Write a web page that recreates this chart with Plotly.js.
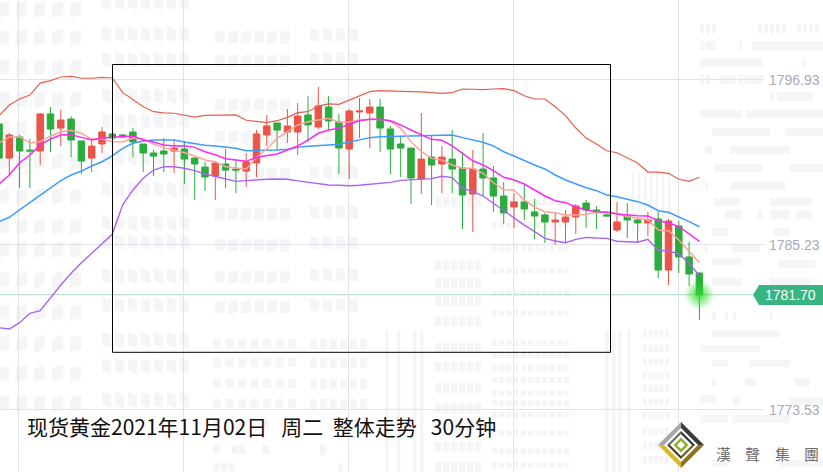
<!DOCTYPE html>
<html><head><meta charset="utf-8">
<script src="https://cdn.plot.ly/plotly-3.0.1.min.js"></script>
<style>html,body{margin:0;padding:0;background:#fff}#c{width:823px;height:472px}</style>
</head><body><div id="c"></div>
<script>
const open_=[1793.81,1791.39,1792.89,1791.96,1791.89,1794.52,1793.52,1794.16,1792.60,1791.39,1792.39,1793.10,1793.03,1793.24,1792.39,1791.75,1791.89,1791.89,1792.03,1791.39,1790.75,1790.12,1790.97,1790.61,1790.47,1791.04,1793.03,1793.88,1793.24,1793.24,1794.45,1793.59,1795.01,1793.95,1792.03,1794.66,1794.59,1795.01,1793.45,1792.39,1792.10,1789.91,1791.46,1790.97,1791.32,1790.69,1788.84,1790.61,1789.98,1788.70,1787.92,1788.28,1787.57,1787.36,1786.86,1786.86,1787.21,1788.20,1787.71,1787.36,1786.29,1787.28,1787.00,1786.79,1787.07,1783.45,1786.57,1784.38,1783.24];
const high=[1794.23,1793.17,1793.03,1792.74,1794.59,1795.01,1794.80,1794.37,1792.60,1792.74,1793.59,1793.10,1793.10,1793.52,1792.39,1791.96,1792.81,1792.60,1792.60,1791.46,1791.11,1791.18,1792.03,1791.32,1791.75,1793.38,1794.45,1793.88,1794.87,1795.30,1795.79,1796.43,1795.79,1794.52,1794.87,1795.65,1795.58,1795.58,1793.67,1792.96,1792.10,1794.59,1792.96,1792.24,1793.38,1791.82,1791.96,1793.17,1790.83,1789.69,1788.91,1789.48,1788.49,1787.50,1787.57,1787.71,1788.13,1788.42,1787.99,1787.50,1788.28,1788.20,1787.07,1787.57,1787.57,1787.07,1786.93,1785.44,1783.31];
const low=[1789.34,1790.19,1789.27,1789.27,1790.90,1791.82,1792.24,1791.46,1790.26,1790.40,1791.75,1792.81,1792.81,1791.46,1790.40,1790.12,1790.40,1790.33,1789.55,1788.42,1789.06,1788.42,1789.27,1788.91,1789.34,1790.05,1792.24,1791.96,1792.46,1791.61,1792.53,1793.45,1793.31,1790.26,1789.91,1792.81,1792.10,1791.82,1790.26,1790.05,1788.13,1788.84,1788.06,1788.91,1788.91,1786.36,1786.15,1788.70,1787.57,1786.72,1786.43,1787.00,1785.65,1785.37,1785.23,1785.37,1786.01,1786.43,1786.36,1787.28,1786.15,1785.72,1785.44,1785.86,1782.89,1782.39,1783.24,1782.32,1779.91];
const close_=[1791.39,1793.03,1791.89,1791.89,1794.52,1793.45,1794.09,1792.67,1791.18,1792.24,1793.24,1792.81,1792.89,1792.53,1791.75,1791.53,1791.68,1792.10,1791.32,1790.97,1790.05,1791.04,1790.54,1790.54,1791.11,1793.10,1793.67,1793.38,1793.67,1794.37,1793.74,1795.08,1794.02,1792.10,1794.73,1794.73,1795.01,1793.52,1792.03,1792.10,1789.98,1791.32,1790.90,1791.46,1790.61,1788.77,1790.61,1789.98,1788.70,1787.50,1788.28,1787.78,1787.28,1786.86,1787.00,1787.21,1787.99,1787.71,1787.64,1787.28,1786.86,1787.00,1786.79,1787.00,1783.45,1786.93,1784.38,1783.17,1781.70];
const upperBand=[1794.37,1795.15,1795.58,1795.86,1796.71,1796.88,1797.14,1797.19,1797.05,1797.05,1797.12,1797.07,1796.05,1795.51,1795.03,1794.68,1794.59,1794.57,1794.42,1794.30,1794.42,1794.42,1794.47,1794.45,1794.07,1793.97,1793.90,1794.04,1794.28,1794.61,1794.68,1795.08,1795.23,1795.20,1795.51,1795.79,1796.10,1796.17,1796.13,1796.10,1796.10,1796.08,1796.05,1795.98,1796.03,1796.29,1796.27,1796.24,1796.29,1796.31,1796.17,1795.81,1795.58,1795.58,1795.03,1794.40,1793.52,1792.81,1792.39,1791.91,1791.77,1791.42,1791.04,1790.40,1790.40,1790.31,1789.89,1789.74,1790.03];
const ma5=[1792.46,1792.89,1792.89,1792.46,1792.55,1792.96,1793.24,1793.36,1793.15,1792.74,1792.76,1792.55,1792.53,1792.81,1792.76,1792.39,1792.13,1791.96,1791.77,1791.54,1791.25,1791.13,1790.78,1790.69,1790.62,1791.45,1792.03,1792.79,1793.26,1793.74,1793.97,1794.11,1794.21,1793.93,1793.95,1794.11,1794.14,1794.14,1794.00,1793.50,1792.55,1791.84,1791.37,1791.25,1790.90,1790.67,1790.67,1790.31,1789.64,1789.15,1789.11,1788.42,1787.90,1787.59,1787.52,1787.35,1787.35,1787.40,1787.55,1787.59,1787.47,1787.23,1787.12,1787.00,1786.29,1786.24,1785.58,1784.75,1783.97];
const ma10=[1789.55,1790.19,1791.06,1791.61,1792.32,1792.74,1793.03,1793.05,1792.86,1792.67,1792.81,1792.86,1792.86,1792.96,1792.67,1792.53,1792.32,1792.25,1792.27,1792.15,1791.84,1791.63,1791.35,1791.25,1791.16,1791.45,1791.56,1791.68,1791.96,1792.25,1792.67,1793.15,1793.38,1793.50,1793.81,1794.04,1794.14,1794.14,1794.04,1793.74,1793.38,1793.03,1792.72,1792.65,1792.25,1791.73,1791.20,1790.90,1790.50,1790.03,1789.84,1789.55,1789.13,1788.70,1788.37,1788.23,1787.94,1787.71,1787.59,1787.55,1787.43,1787.35,1787.30,1787.28,1786.95,1786.81,1786.52,1786.01,1785.49];
const ma20=[1786.88,1787.19,1787.71,1788.23,1788.70,1789.25,1789.79,1790.19,1790.47,1790.83,1791.13,1791.54,1792.08,1792.44,1792.60,1792.67,1792.69,1792.67,1792.53,1792.39,1792.30,1792.25,1792.15,1792.08,1791.91,1791.91,1791.94,1791.96,1792.01,1792.15,1792.23,1792.30,1792.32,1792.37,1792.51,1792.67,1792.84,1792.91,1792.93,1792.96,1792.98,1792.98,1793.03,1793.05,1793.03,1792.84,1792.67,1792.51,1792.25,1791.84,1791.54,1791.20,1790.90,1790.62,1790.19,1789.84,1789.55,1789.29,1789.08,1788.77,1788.65,1788.47,1788.30,1788.06,1787.66,1787.55,1787.23,1786.88,1786.52];
const lowerBand=[1779.36,1779.27,1779.72,1780.38,1780.57,1781.52,1782.39,1783.22,1783.97,1784.64,1785.28,1785.99,1788.06,1789.13,1789.96,1790.54,1790.78,1790.78,1790.67,1790.50,1790.26,1790.07,1789.89,1789.74,1789.79,1789.86,1789.89,1789.91,1789.89,1789.77,1789.67,1789.53,1789.48,1789.46,1789.43,1789.46,1789.53,1789.57,1789.67,1789.81,1789.86,1789.89,1789.93,1790.10,1790.01,1789.25,1789.01,1788.70,1788.18,1787.71,1787.19,1786.64,1786.17,1785.70,1785.51,1785.39,1785.63,1785.77,1785.72,1785.70,1785.49,1785.46,1785.42,1785.63,1784.85,1784.80,1784.59,1783.93,1783.05];
const priceTicks=[1796.93,1785.23,1773.53];
const priceLabels=['1796.93','1785.23','1773.53'];
const lastPrice=1781.70;
const lastLabel='1781.70';
const titleText='现货黄金2021年11月02日\u00a0\u00a0\u00a0周二\u00a0\u00a0整体走势\u00a0\u00a0\u00a030分钟';
const brandChars=['漢','聲','集','團'];

const bars=open_.map((_,i)=>i);
const W=823,H=472,R=59,PW=W-R;
const px=x=>(x/PW).toFixed(5), py=y=>(1-y/H).toFixed(5);

/* ---- decorative watermark, in page pixels ---- */
let wm='';
function block(x,y,w,h,skew){wm+=`M${px(x)},${py(y)}L${px(x+w)},${py(y+skew)}L${px(x+w)},${py(y+skew+h)}L${px(x)},${py(y+h)}Z`;}
function row(y,x0,x1,step,w,h,skew){for(let x=x0;x<=x1;x+=step)block(x,y,w,h,skew||0);}
const bar=(y,x0,x1,h)=>block(x0,y,x1-x0,h,0);
[-2,26,56,88,117,150,185,215,238,268,301,332,362,392].forEach((y,k)=>{
  row(y+6,-2,71,18,11,14,-3);
  row(y-4+ (k%2?4:0),102,180,13,9,13,3);
});
[28,52,96,128,165,205,236,268,298].forEach(y=>{
  row(y+4,215,290,13,10,12,-2);
  row(y,310,360,13,9,12,2);
});
[343,362,383,403].forEach((y,k)=>{
  row(y-4,213,295,12.5,8,9);
  row(y-4,310,365,10,7,10);
});
[420,445].forEach(y=>{row(y,213,232,19,7,9);row(y,238,262,24,7,9);});
row(463,213,232,8,6,8);row(463,338,338,6,5,10);row(445,320,320,6,6,10);
[385,397,413,420,605,612,618,627].forEach(x=>bar(330,x,x+3.5,142));
[632,638,644,650,656,662,668].forEach(x=>bar(172,x,x+2.5,60));
[197,260,278,296,316,343,362,383,403,420,442,462].forEach(y=>row(y,435,482,8,6,10));
[200,222,245,268,290,310,340,352,365,377,390,400,412,430,448,462].forEach(y=>row(y,492,568,7.2,5,6));
[330,345,358,372,385,398,412,428,442,456].forEach(y=>row(y,643,668,5.5,4,7));
row(24,700,715,6,4,9);row(24,758,787,6,4,9);row(24,797,820,6,4,9);
row(41,700,700,6,4,9);bar(41,705,716,9);bar(41,739,742,9);bar(41,752,823,9);
bar(58,700,762,9);bar(58,803,806,9);
row(75,700,706,6,4,9);bar(75,719,735,9);bar(75,739,743,9);bar(75,745,763,9);
bar(92,771,774,9);bar(92,777,813,9);
bar(110,700,742,8);bar(110,746,823,8);
bar(128,712,770,8);bar(128,785,823,8);bar(146,705,712,8);bar(146,730,790,8);
bar(164,714,762,8);bar(164,790,823,8);bar(182,705,708,8);bar(182,731,785,8);
bar(198,714,740,8);bar(198,770,812,8);
bar(210,725,742,9);bar(210,758,762,9);bar(210,770,790,9);bar(210,796,812,9);
bar(228,712,728,8);bar(228,773,790,8);
bar(244,705,708,8);bar(244,732,760,8);
bar(258,712,742,7);bar(260,778,815,8);
bar(278,712,742,8);bar(278,770,810,8);
bar(312,712,716,8);bar(312,725,728,8);bar(312,733,736,8);bar(312,770,773,8);
bar(330,712,780,7);bar(345,700,760,7);bar(360,712,728,7);bar(360,750,790,7);
bar(378,712,716,8);bar(378,745,756,8);bar(378,795,810,8);
bar(395,700,716,8);bar(397,733,740,8);bar(397,790,823,8);
bar(415,700,728,8);bar(415,732,790,8);
bar(460,712,728,7);bar(460,780,823,7);

const P=(pts)=>'M'+pts.map(p=>px(p[0])+','+py(p[1])).join('L')+'Z';
const cx=681,cy=445;
const dia=r=>P([[cx,cy-r],[cx+r,cy],[cx,cy+r],[cx-r,cy]]);
const tri=(a,b,r)=>P([[cx+a[0]*r,cy+a[1]*r],[cx+b[0]*r,cy+b[1]*r],[cx,cy]]);
const T=[0,-1],Rr=[1,0],Bt=[0,1],Lf=[-1,0];
const sh=(path,fill)=>({type:'path',xref:'paper',yref:'paper',path,fillcolor:fill,line:{width:0},layer:'above'});

const shapes=[
 {type:'path',xref:'paper',yref:'paper',path:wm,fillcolor:'#f5f5f8',line:{width:0},layer:'below'},
 {type:'line',xref:'paper',yref:'y',x0:0,x1:753/PW,y0:lastPrice,y1:lastPrice,line:{color:'#a6d9c1',width:1},layer:'below'},
 {type:'rect',xref:'paper',yref:'paper',x0:112.5/PW,x1:610.5/PW,y0:1-352.3/H,y1:1-64.5/H,line:{color:'#000',width:1},fillcolor:'rgba(0,0,0,0)',layer:'above'},
 sh(P([[753,295],[759,285],[823,285],[823,305],[759,305]]),'#38b583'),
 sh(tri(T,Lf,23),'#a8a8a8'),sh(tri(T,Rr,23),'#3c3c3c'),sh(tri(Bt,Lf,23),'#d9b92c'),sh(tri(Bt,Rr,23),'#8e7420'),
 sh(dia(17),'#ffffff'),
 sh(tri(T,Lf,14),'#6a6a6a'),sh(tri(T,Rr,14),'#2f2f2f'),sh(tri(Bt,Lf,14),'#4a3a18'),sh(tri(Bt,Rr,14),'#6e5a20'),
 sh(dia(11),'#ffffff'),sh(dia(7.5),'#8cb02e'),sh(dia(4),'#ffffff')
];

const ln=(y,color,w)=>({type:'scatter',mode:'lines',x:bars,y,line:{color,width:w},hoverinfo:'skip',showlegend:false});
const traces=[
 ln(upperBand,'#e4604e',1.2),
 ln(lowerBand,'#ab62f5',1.4),
 ln(ma20,'#3f9bff',1.5),
 {type:'candlestick',x:bars,open:open_,high,low,close:close_,
  increasing:{line:{color:'#ea5548',width:1},fillcolor:'#ea5548'},
  decreasing:{line:{color:'#2aad3c',width:1},fillcolor:'#2aad3c'},
  whiskerwidth:0,showlegend:false,hoverinfo:'skip'},
 ln(ma5,'#fba49b',1.5),
 ln(ma10,'#f62cf2',1.5),
 {type:'scatter',mode:'markers',x:[bars[bars.length-1]],y:[lastPrice],
  marker:{size:30,color:'rgba(50,215,50,0)',gradient:{type:'radial',color:'rgba(50,215,50,0.9)'},line:{width:0}},
  hoverinfo:'skip',showlegend:false}
];

const annotations=[
 {xref:'paper',yref:'paper',x:25/PW,y:1-426/H,xanchor:'left',yanchor:'middle',showarrow:false,text:titleText,
  font:{family:'"Noto Sans CJK SC"',size:21,color:'#111'}},
 {xref:'paper',yref:'paper',x:790/PW,y:1-295/H,xanchor:'center',yanchor:'middle',showarrow:false,text:lastLabel,
  font:{family:'"Liberation Sans"',size:14,color:'#fff'}}
].concat(brandChars.map((c,k)=>({xref:'paper',yref:'paper',x:(723+k*29.5)/PW,y:1-453/H,xanchor:'center',yanchor:'middle',
  showarrow:false,text:c,font:{family:'"Noto Sans CJK TC"',size:15,color:'#6e6e6e'}})));

const layout={
 width:W,height:H,margin:{l:0,r:R,t:0,b:0,pad:0},paper_bgcolor:'#fff',plot_bgcolor:'rgba(0,0,0,0)',
 showlegend:false,boxgap:0.1,hovermode:false,dragmode:false,
 xaxis:{range:[1/10.3,765/10.3],tick0:1.9,dtick:16.02,showticklabels:false,ticks:'',showgrid:true,gridcolor:'#e2e2ea',gridwidth:1,
        zeroline:false,showline:false,fixedrange:true,rangeslider:{visible:false}},
 yaxis:{range:[1769.13,1802.60],side:'right',tickmode:'array',tickvals:priceTicks,ticktext:priceLabels,ticks:'',ticklabelstandoff:4,
        tickfont:{family:'"Liberation Sans"',size:14,color:'#a9a9b8'},showgrid:true,gridcolor:'#e2e2ea',gridwidth:1,
        zeroline:false,showline:false,fixedrange:true},
 shapes,annotations
};
Plotly.newPlot('c',traces,layout,{displayModeBar:false,staticPlot:true});
</script></body></html>
